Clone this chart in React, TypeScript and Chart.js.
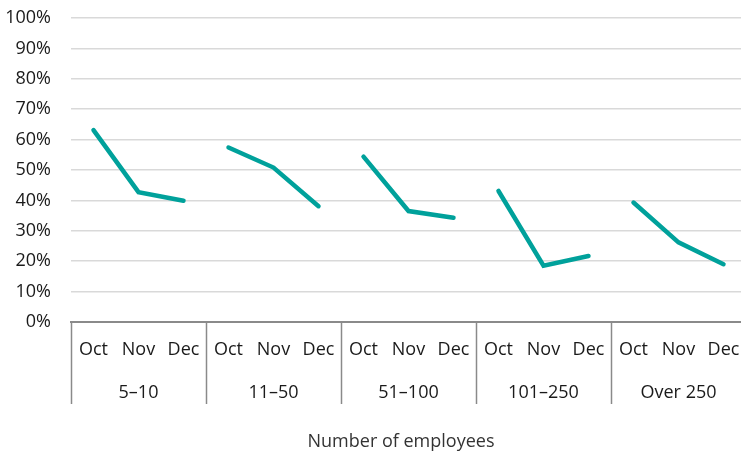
import React, { useEffect, useRef } from "react";
import { Chart, registerables } from "chart.js";

Chart.register(...registerables);

const groups = ["5–10", "11–50", "51–100", "101–250", "Over 250"];
const months = ["Oct", "Nov", "Dec"];
const size5to10 = [63.1, 42.7, 39.9];
const size11to50 = [57.4, 50.8, 38.1];
const size51to100 = [54.4, 36.5, 34.3];
const size101to250 = [43.1, 18.5, 21.7];
const sizeOver250 = [39.3, 26.2, 19.0];
const yTicks = [0, 10, 20, 30, 40, 50, 60, 70, 80, 90, 100];
const axisTitle = "Number of employees";

const groupValues = [size5to10, size11to50, size51to100, size101to250, sizeOver250];
const labels = groups.flatMap(() => months);
const values = groupValues.flat();

const TEAL = "#00a19b";
const FONT = "'Open Sans', sans-serif";
const FS = 18;

const groupPlugin = {
  id: "groupLabels",
  afterDraw(chart: any) {
    const { ctx, chartArea } = chart;
    const x = chart.scales.x;
    const half = (x.getPixelForValue(1) - x.getPixelForValue(0)) / 2;
    ctx.save();
    ctx.strokeStyle = "#8a8a8a";
    ctx.lineWidth = 1.5;
    ctx.fillStyle = "#1a1a1a";
    ctx.font = `${FS}px ${FONT}`;
    ctx.textAlign = "center";
    ctx.textBaseline = "alphabetic";
    groups.forEach((g, i) => {
      const start = x.getPixelForValue(i * months.length) - half;
      const end = x.getPixelForValue(i * months.length + months.length - 1) + half;
      ctx.beginPath();
      ctx.moveTo(Math.round(start) + 0.5, chartArea.bottom);
      ctx.lineTo(Math.round(start) + 0.5, 404);
      ctx.stroke();
      ctx.fillText(g, (start + end) / 2, 397.5);
    });
    ctx.fillStyle = "#333333";
    ctx.fillText(axisTitle, 401, 446.5);
    ctx.restore();
  },
};

export default function App() {
  const ref = useRef<HTMLCanvasElement>(null);
  useEffect(() => {
    document.body.style.margin = "0";
    const chart = new Chart(ref.current!, {
      type: "line",
      data: {
        labels,
        datasets: [
          {
            data: values,
            borderColor: TEAL,
            borderWidth: 4.5,
            borderCapStyle: "round",
            borderJoinStyle: "miter",
            pointRadius: 0,
            tension: 0,
            segment: {
              borderColor: (c: any) =>
                c.p0DataIndex % months.length === months.length - 1 ? "rgba(0,0,0,0)" : TEAL,
            },
          },
        ],
      },
      options: {
        animation: false,
        responsive: false,
        devicePixelRatio: 1,
        layout: { padding: { top: 18, right: 0, left: 0, bottom: 0 } },
        plugins: { legend: { display: false }, tooltip: { enabled: false } },
        scales: {
          x: {
            offset: true,
            grid: { display: false, drawTicks: false },
            border: { display: true, color: "#8a8a8a", width: 2 },
            ticks: {
              color: "#1a1a1a",
              font: { family: FONT, size: FS },
              padding: 17,
              maxRotation: 0,
              autoSkip: false,
            },
            afterFit: (s: any) => {
              s.height = 129;
              s.paddingLeft = 0;
              s.paddingRight = 0;
            },
          },
          y: {
            min: 0,
            max: 100,
            afterBuildTicks: (s: any) => {
              s.ticks = yTicks.map((v) => ({ value: v }));
            },
            grid: { color: "#d9d9d9", lineWidth: 1.5, drawTicks: false },
            border: { display: false },
            ticks: {
              color: "#1a1a1a",
              font: { family: FONT, size: FS },
              padding: 20,
              callback: (v: any) => `${v}%`,
            },
            afterFit: (s: any) => {
              s.width = 71;
              s.paddingTop = 0;
              s.paddingBottom = 0;
            },
          },
        },
      },
      plugins: [groupPlugin],
    });
    return () => chart.destroy();
  }, []);
  return (
    <div style={{ position: "absolute", left: 0, top: 0, width: 741, height: 451, overflow: "hidden", background: "#fff" }}>
      <canvas ref={ref} width={746} height={451} style={{ display: "block", width: 746, height: 451 }} />
    </div>
  );
}
